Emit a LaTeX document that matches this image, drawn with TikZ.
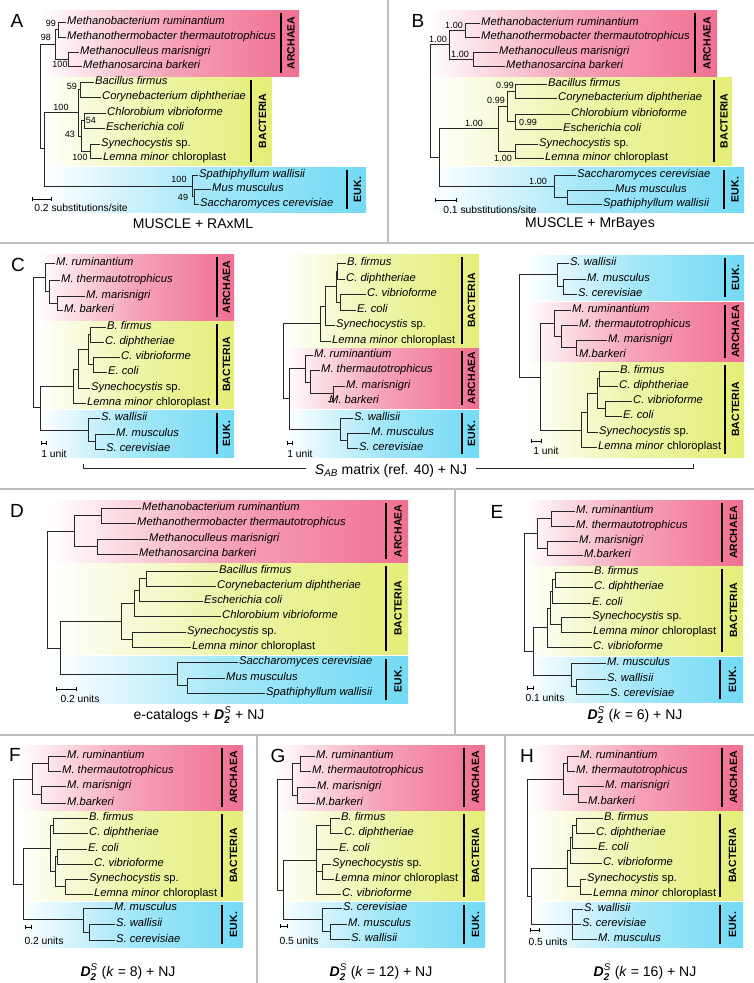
\documentclass[tikz,border=0pt]{standalone}
\usepackage{amsmath}
\usepackage{fontspec}
\setmainfont{Liberation Sans}
\usetikzlibrary{arrows.meta}

\definecolor{archc}{RGB}{240,112,145}
\definecolor{bactc}{RGB}{228,238,120}
\definecolor{eukc}{RGB}{115,218,245}

\newcommand{\cladebox}[8]{%
	\shade[left color=white, right color=#2, middle color=#2!65] (#3,#4) rectangle (#5,#6);
	\draw[grpbar] (#7,#4+3) -- (#7,#6-3);
	\node[grplabel] at ({(#7+#5)/2+1},{(#4+#6)/2}) (#1) {#8};
}
\newcommand{\dtwos}{$\textbf{\textit{D}}^{\textit{S}}_{\textbf{\textit{2}}}$}

\begin{document}
\begin{tikzpicture}[x=1pt,y=-1pt,
	leaf/.style={anchor=west,inner sep=1pt,text height=8pt,text depth=2.5pt,font=\fontsize{11.2}{13}\selectfont\itshape},
	supval/.style={inner sep=0pt,font=\fontsize{9}{10}\selectfont},
	grplabel/.style={rotate=90,inner sep=0pt,font=\fontsize{10.5}{12}\selectfont\bfseries},
	plabel/.style={inner sep=0pt,font=\fontsize{19}{22}\selectfont},
	captext/.style={inner sep=0pt,font=\fontsize{14}{16}\selectfont},
	scaletext/.style={inner sep=0pt,font=\fontsize{10.3}{12}\selectfont},
	branch/.style={line width=0.8pt,draw=black!85},
	elbow/.style={branch,to path={|- (\tikztotarget)}},
	grpbar/.style={line width=2.6pt},
	scalebar/.style={line width=0.8pt,{Bar[width=4pt]}-{Bar[width=4pt]}},
	divider/.style={line width=1.4pt,draw=black!25}]

	\useasboundingbox (0,0) rectangle (754,983);

	% A
	\cladebox{Aarc}{archc}{42}{10}{299}{76}{281}{ARCHAEA}
	\cladebox{Abac}{bactc}{42}{77}{272}{165}{251}{BACTERIA}
	\cladebox{Aeuk}{eukc}{42}{167}{366}{212}{347}{EUK.}
	\node[plabel] at (17,21) (Alab) {A};
	\node[leaf] at (66,22) (Amr) {Methanobacterium ruminantium};
	\node[leaf] at (66,37) (Amt) {Methanothermobacter thermautotrophicus};
	\node[leaf] at (79,52) (Amm) {Methanoculleus marisnigri};
	\node[leaf] at (82,66) (Amb) {Methanosarcina barkeri};
	\node[leaf] at (94,82) (Abf) {Bacillus firmus};
	\node[leaf] at (101,97) (Acd) {Corynebacterium diphtheriae};
	\node[leaf] at (106,113) (Acv) {Chlorobium vibrioforme};
	\node[leaf] at (105,128) (Aec) {Escherichia coli};
	\node[leaf] at (100,144) (Asy) {Synechocystis \textup{sp.}};
	\node[leaf] at (102,158) (Alm) {Lemna minor \textup{chloroplast}};
	\node[leaf] at (198,175) (Asw) {Spathiphyllum wallisii};
	\node[leaf] at (211,189) (Amu) {Mus musculus};
	\node[leaf] at (199,204) (Asc) {Saccharomyces cerevisiae};
	\coordinate (Aa1) at (58,29.5);
	\coordinate (Aa2) at (68,59);
	\coordinate (Aa3) at (55,44);
	\coordinate (Ab1) at (80,89.5);
	\coordinate (Ab2) at (84,120.5);
	\coordinate (Ab3) at (90,151);
	\coordinate (Ab4) at (81,136);
	\coordinate (Ab5) at (78,112);
	\coordinate (Ae1) at (194,196.5);
	\coordinate (Ae0) at (192,186);
	\coordinate (Ar2) at (44,148);
	\coordinate (Ar) at (40,96);
	\path
	(Ar) edge[elbow] (Aa3) edge[elbow] (Ar2)
	(Aa3) edge[elbow] (Aa1) edge[elbow] (Aa2)
	(Aa1) edge[elbow] (Amr.west) edge[elbow] (Amt.west)
	(Aa2) edge[elbow] (Amm.west) edge[elbow] (Amb.west)
	(Ar2) edge[elbow] (Ab5) edge[elbow] (Ae0)
	(Ab5) edge[elbow] (Ab1) edge[elbow] (Ab4)
	(Ab1) edge[elbow] (Abf.west) edge[elbow] (Acd.west)
	(Ab4) edge[elbow] (Ab2) edge[elbow] (Ab3)
	(Ab2) edge[elbow] (Acv.west) edge[elbow] (Aec.west)
	(Ab3) edge[elbow] (Asy.west) edge[elbow] (Alm.west)
	(Ae0) edge[elbow] (Asw.west) edge[elbow] (Ae1)
	(Ae1) edge[elbow] (Amu.west) edge[elbow] (Asc.west)
	;
	\node[supval] at (51,23) (As1) {99};
	\node[supval] at (46,37) (As2) {98};
	\node[supval] at (60,64) (As3) {100};
	\node[supval] at (72,86) (As4) {59};
	\node[supval] at (61,107) (As5) {100};
	\node[supval] at (91,120) (As6) {54};
	\node[supval] at (70,134) (As7) {43};
	\node[supval] at (80,157) (As8) {100};
	\node[supval] at (179,179) (As9) {100};
	\node[supval] at (183,197) (As10) {49};
	\draw[scalebar] (32,199) -- (52,199);
	\node[scaletext] at (81,208) (Ascl) {0.2 substitutions/site};
	\node[captext] at (193,224) (Acap) {MUSCLE + RAxML};

	% B
	\cladebox{Barc}{archc}{428}{10}{717}{76}{695}{ARCHAEA}
	\cladebox{Bbac}{bactc}{428}{77}{732}{165}{714}{BACTERIA}
	\cladebox{Beuk}{eukc}{428}{167}{744}{212}{724}{EUK.}
	\node[plabel] at (418,21) (Blab) {B};
	\node[leaf] at (480,23) (Bmr) {Methanobacterium ruminantium};
	\node[leaf] at (480,37) (Bmt) {Methanothermobacter thermautotrophicus};
	\node[leaf] at (498,52) (Bmm) {Methanoculleus marisnigri};
	\node[leaf] at (505,66) (Bmb) {Methanosarcina barkeri};
	\node[leaf] at (547,84) (Bbf) {Bacillus firmus};
	\node[leaf] at (557,98) (Bcd) {Corynebacterium diphtheriae};
	\node[leaf] at (570,114) (Bcv) {Chlorobium vibrioforme};
	\node[leaf] at (562,129) (Bec) {Escherichia coli};
	\node[leaf] at (538,144) (Bsy) {Synechocystis \textup{sp.}};
	\node[leaf] at (544,158) (Blm) {Lemna minor \textup{chloroplast}};
	\node[leaf] at (576,175) (Bsc) {Saccharomyces cerevisiae};
	\node[leaf] at (614,190) (Bmu) {Mus musculus};
	\node[leaf] at (602,204) (Bsw) {Spathiphyllum wallisii};
	\coordinate (Ba1) at (465,30);
	\coordinate (Ba2) at (473,59);
	\coordinate (Ba3) at (449,44.5);
	\coordinate (Bb1) at (515,91);
	\coordinate (Bb2) at (515,121.5);
	\coordinate (Bb3) at (507,106);
	\coordinate (Bb4) at (515,151);
	\coordinate (Bb5) at (498,128);
	\coordinate (Be1) at (567,197);
	\coordinate (Be0) at (554,186);
	\coordinate (Br2) at (439,157);
	\coordinate (Br) at (430,100);
	\path
	(Br) edge[elbow] (Ba3) edge[elbow] (Br2)
	(Ba3) edge[elbow] (Ba1) edge[elbow] (Ba2)
	(Ba1) edge[elbow] (Bmr.west) edge[elbow] (Bmt.west)
	(Ba2) edge[elbow] (Bmm.west) edge[elbow] (Bmb.west)
	(Br2) edge[elbow] (Bb5) edge[elbow] (Be0)
	(Bb5) edge[elbow] (Bb3) edge[elbow] (Bb4)
	(Bb3) edge[elbow] (Bb1) edge[elbow] (Bb2)
	(Bb1) edge[elbow] (Bbf.west) edge[elbow] (Bcd.west)
	(Bb2) edge[elbow] (Bcv.west) edge[elbow] (Bec.west)
	(Bb4) edge[elbow] (Bsy.west) edge[elbow] (Blm.west)
	(Be0) edge[elbow] (Bsc.west) edge[elbow] (Be1)
	(Be1) edge[elbow] (Bmu.west) edge[elbow] (Bsw.west)
	;
	\node[supval] at (454,25) (Bs1) {1.00};
	\node[supval] at (438,39) (Bs2) {1.00};
	\node[supval] at (460,54) (Bs3) {1.00};
	\node[supval] at (505,85) (Bs4) {0.99};
	\node[supval] at (496,100) (Bs5) {0.99};
	\node[supval] at (528,122) (Bs6) {0.99};
	\node[supval] at (474,123) (Bs7) {1.00};
	\node[supval] at (503,158) (Bs8) {1.00};
	\node[supval] at (538,181) (Bs9) {1.00};
	\draw[scalebar] (435,200) -- (457,200);
	\node[scaletext] at (490,210) (Bscl) {0.1 substitutions/site};
	\node[captext] at (590,224) (Bcap) {MUSCLE + MrBayes};

	% C
	\cladebox{Caarc}{archc}{38}{254}{234}{320}{217}{ARCHAEA}
	\cladebox{Cabac}{bactc}{38}{321}{234}{408}{217}{BACTERIA}
	\cladebox{Caeuk}{eukc}{38}{410}{234}{457}{217}{EUK.}
	\node[plabel] at (18,265) (Clab) {C};
	\node[leaf] at (55,263) (Camr) {M. ruminantium};
	\node[leaf] at (60,280) (Camt) {M. thermautotrophicus};
	\node[leaf] at (85,296) (Camm) {M. marisnigri};
	\node[leaf] at (63,310) (Camb) {M. barkeri};
	\node[leaf] at (106,327) (Cabf) {B. firmus};
	\node[leaf] at (104,342) (Cacd) {C. diphtheriae};
	\node[leaf] at (120,357) (Cacv) {C. vibrioforme};
	\node[leaf] at (107,372) (Caec) {E. coli};
	\node[leaf] at (90,388) (Casy) {Synechocystis \textup{sp.}};
	\node[leaf] at (86,403) (Calm) {Lemna minor \textup{chloroplast}};
	\node[leaf] at (100,418) (Casw) {S. wallisii};
	\node[leaf] at (115,434) (Camu) {M. musculus};
	\node[leaf] at (105,449) (Casc) {S. cerevisiae};
	\coordinate (Caa3) at (57,303);
	\coordinate (Caa2) at (49,291.5);
	\coordinate (Caa1) at (45,277);
	\coordinate (Cab1) at (90,334.5);
	\coordinate (Cab2) at (93,364.5);
	\coordinate (Cab3) at (88,349.5);
	\coordinate (Cab4) at (78,369);
	\coordinate (Cab5) at (73,386);
	\coordinate (Cae1) at (95,441.5);
	\coordinate (Cae0) at (88,430);
	\coordinate (Car2) at (40,407);
	\coordinate (Car) at (33,342);
	\path
	(Car) edge[elbow] (Caa1) edge[elbow] (Car2)
	(Caa1) edge[elbow] (Camr.west) edge[elbow] (Caa2)
	(Caa2) edge[elbow] (Camt.west) edge[elbow] (Caa3)
	(Caa3) edge[elbow] (Camm.west) edge[elbow] (Camb.west)
	(Car2) edge[elbow] (Cab5) edge[elbow] (Cae0)
	(Cab5) edge[elbow] (Cab4) edge[elbow] (Calm.west)
	(Cab4) edge[elbow] (Cab3) edge[elbow] (Casy.west)
	(Cab3) edge[elbow] (Cab1) edge[elbow] (Cab2)
	(Cab1) edge[elbow] (Cabf.west) edge[elbow] (Cacd.west)
	(Cab2) edge[elbow] (Cacv.west) edge[elbow] (Caec.west)
	(Cae0) edge[elbow] (Casw.west) edge[elbow] (Cae1)
	(Cae1) edge[elbow] (Camu.west) edge[elbow] (Casc.west)
	;
	\draw[scalebar] (41,443) -- (47,443);
	\node[scaletext] at (54,454) (Cascl) {1 unit};

	\cladebox{Cbbac}{bactc}{285}{254}{479}{347}{462}{BACTERIA}
	\cladebox{Cbarc}{archc}{285}{348}{479}{408}{462}{ARCHAEA}
	\cladebox{Cbeuk}{eukc}{285}{410}{479}{457}{462}{EUK.}
	\node[leaf] at (346,263) (Cbbf) {B. firmus};
	\node[leaf] at (345,279) (Cbcd) {C. diphtheriae};
	\node[leaf] at (366,294) (Cbcv) {C. vibrioforme};
	\node[leaf] at (356,310) (Cbec) {E. coli};
	\node[leaf] at (335,325) (Cbsy) {Synechocystis \textup{sp.}};
	\node[leaf] at (331,341) (Cblm) {Lemna minor \textup{chloroplast}};
	\node[leaf] at (313,355) (Cbmr) {M. ruminantium};
	\node[leaf] at (320,370) (Cbmt) {M. thermautotrophicus};
	\node[leaf] at (345,386) (Cbmm) {M. marisnigri};
	\node[leaf] at (328,401) (Cbmb) {M. barkeri};
	\node[leaf] at (353,418) (Cbsw) {S. wallisii};
	\node[leaf] at (370,433) (Cbmu) {M. musculus};
	\node[leaf] at (358,448) (Cbsc) {S. cerevisiae};
	\coordinate (Cbb1) at (337,271);
	\coordinate (Cbb2) at (340,302);
	\coordinate (Cbb3) at (336,286.5);
	\coordinate (Cbb4) at (325,306);
	\coordinate (Cbb5) at (320,323);
	\coordinate (Cba3) at (333,393.5);
	\coordinate (Cba2) at (310,382);
	\coordinate (Cba1) at (305,368);
	\coordinate (Cbe1) at (347,440.5);
	\coordinate (Cbe0) at (340,429);
	\coordinate (Cbr2) at (289,398);
	\coordinate (Cbr) at (283,360);
	\path
	(Cbr) edge[elbow] (Cbb5) edge[elbow] (Cbr2)
	(Cbb5) edge[elbow] (Cbb4) edge[elbow] (Cblm.west)
	(Cbb4) edge[elbow] (Cbb3) edge[elbow] (Cbsy.west)
	(Cbb3) edge[elbow] (Cbb1) edge[elbow] (Cbb2)
	(Cbb1) edge[elbow] (Cbbf.west) edge[elbow] (Cbcd.west)
	(Cbb2) edge[elbow] (Cbcv.west) edge[elbow] (Cbec.west)
	(Cbr2) edge[elbow] (Cba1) edge[elbow] (Cbe0)
	(Cba1) edge[elbow] (Cbmr.west) edge[elbow] (Cba2)
	(Cba2) edge[elbow] (Cbmt.west) edge[elbow] (Cba3)
	(Cba3) edge[elbow] (Cbmm.west) edge[elbow] (Cbmb.west)
	(Cbe0) edge[elbow] (Cbsw.west) edge[elbow] (Cbe1)
	(Cbe1) edge[elbow] (Cbmu.west) edge[elbow] (Cbsc.west)
	;
	\draw[scalebar] (287,443) -- (293,443);
	\node[scaletext] at (300,454) (Cbscl) {1 unit};

	\cladebox{Cceuk}{eukc}{525}{255}{744}{300}{725}{EUK.}
	\cladebox{Ccarc}{archc}{525}{302}{744}{361}{725}{ARCHAEA}
	\cladebox{Ccbac}{bactc}{525}{362}{744}{457}{725}{BACTERIA}
	\node[leaf] at (569,263) (Ccsw) {S. wallisii};
	\node[leaf] at (586,279) (Ccmu) {M. musculus};
	\node[leaf] at (577,294) (Ccsc) {S. cerevisiae};
	\node[leaf] at (571,310) (Ccmr) {M. ruminantium};
	\node[leaf] at (578,325) (Ccmt) {M. thermautotrophicus};
	\node[leaf] at (607,340) (Ccmm) {M. marisnigri};
	\node[leaf] at (578,355) (Ccmb) {M.barkeri};
	\node[leaf] at (619,371) (Ccbf) {B. firmus};
	\node[leaf] at (618,386) (Cccd) {C. diphtheriae};
	\node[leaf] at (632,401) (Cccv) {C. vibrioforme};
	\node[leaf] at (622,416) (Ccec) {E. coli};
	\node[leaf] at (598,432) (Ccsy) {Synechocystis \textup{sp.}};
	\node[leaf] at (597,447) (Cclm) {Lemna minor \textup{chloroplast}};
	\coordinate (Cce1) at (563,286.5);
	\coordinate (Cce0) at (557,274);
	\coordinate (Cca3) at (576,347.5);
	\coordinate (Cca2) at (561,336);
	\coordinate (Cca1) at (554,323);
	\coordinate (Ccb1) at (599,378.5);
	\coordinate (Ccb2) at (605,408.5);
	\coordinate (Ccb3) at (597,393.5);
	\coordinate (Ccb4) at (587,412);
	\coordinate (Ccb5) at (581,430);
	\coordinate (Ccr2) at (540,377);
	\coordinate (Ccr) at (519,325);
	\path
	(Ccr) edge[elbow] (Cce0) edge[elbow] (Ccr2)
	(Cce0) edge[elbow] (Ccsw.west) edge[elbow] (Cce1)
	(Cce1) edge[elbow] (Ccmu.west) edge[elbow] (Ccsc.west)
	(Ccr2) edge[elbow] (Cca1) edge[elbow] (Ccb5)
	(Cca1) edge[elbow] (Ccmr.west) edge[elbow] (Cca2)
	(Cca2) edge[elbow] (Ccmt.west) edge[elbow] (Cca3)
	(Cca3) edge[elbow] (Ccmm.west) edge[elbow] (Ccmb.west)
	(Ccb5) edge[elbow] (Ccb4) edge[elbow] (Cclm.west)
	(Ccb4) edge[elbow] (Ccb3) edge[elbow] (Ccsy.west)
	(Ccb3) edge[elbow] (Ccb1) edge[elbow] (Ccb2)
	(Ccb1) edge[elbow] (Ccbf.west) edge[elbow] (Cccd.west)
	(Ccb2) edge[elbow] (Cccv.west) edge[elbow] (Ccec.west)
	;
	\draw[scalebar] (531,441) -- (542,441);
	\node[scaletext] at (546,451) (Ccscl) {1 unit};

	\coordinate (Cbl) at (83,464);
	\coordinate (Cbr) at (693,464);
	\node[captext,inner xsep=9pt] at (391,471) (Ccap) {$\textit{S}_{\textit{AB}}$ matrix (ref. 40) + NJ};
	\draw[branch] (Cbl) |- ([yshift=3pt]Ccap.west);
	\draw[branch] ([yshift=3pt]Ccap.east) -| (Cbr);

	% D
	\cladebox{Darc}{archc}{50}{500}{408}{562}{386}{ARCHAEA}
	\cladebox{Dbac}{bactc}{50}{563}{408}{654}{386}{BACTERIA}
	\cladebox{Deuk}{eukc}{50}{656}{408}{703}{386}{EUK.}
	\node[plabel] at (17,511) (Dlab) {D};
	\node[leaf] at (141,508) (Dmr) {Methanobacterium ruminantium};
	\node[leaf] at (136,523) (Dmt) {Methanothermobacter thermautotrophicus};
	\node[leaf] at (148,539) (Dmm) {Methanoculleus marisnigri};
	\node[leaf] at (138,554) (Dmb) {Methanosarcina barkeri};
	\node[leaf] at (218,571) (Dbf) {Bacillus firmus};
	\node[leaf] at (216,586) (Dcd) {Corynebacterium diphtheriae};
	\node[leaf] at (203,601) (Dec) {Escherichia coli};
	\node[leaf] at (221,616) (Dcv) {Chlorobium vibrioforme};
	\node[leaf] at (186,632) (Dsy) {Synechocystis \textup{sp.}};
	\node[leaf] at (191,647) (Dlm) {Lemna minor \textup{chloroplast}};
	\node[leaf] at (238,662) (Dsc) {Saccharomyces cerevisiae};
	\node[leaf] at (225,678) (Dmu) {Mus musculus};
	\node[leaf] at (265,693) (Dsw) {Spathiphyllum wallisii};
	\coordinate (Da1) at (101,515.5);
	\coordinate (Da2) at (97,546.5);
	\coordinate (Da3) at (74,531);
	\coordinate (Db1) at (146,578.5);
	\coordinate (Db2) at (139,590);
	\coordinate (Db3) at (134,603);
	\coordinate (Db4) at (132,639.5);
	\coordinate (Db5) at (121,621);
	\coordinate (De1) at (187,685.5);
	\coordinate (De0) at (177,674);
	\coordinate (Dr2) at (60,648);
	\coordinate (Dr) at (47,590);
	\path
	(Dr) edge[elbow] (Da3) edge[elbow] (Dr2)
	(Da3) edge[elbow] (Da1) edge[elbow] (Da2)
	(Da1) edge[elbow] (Dmr.west) edge[elbow] (Dmt.west)
	(Da2) edge[elbow] (Dmm.west) edge[elbow] (Dmb.west)
	(Dr2) edge[elbow] (Db5) edge[elbow] (De0)
	(Db5) edge[elbow] (Db3) edge[elbow] (Db4)
	(Db3) edge[elbow] (Db2) edge[elbow] (Dcv.west)
	(Db2) edge[elbow] (Db1) edge[elbow] (Dec.west)
	(Db1) edge[elbow] (Dbf.west) edge[elbow] (Dcd.west)
	(Db4) edge[elbow] (Dsy.west) edge[elbow] (Dlm.west)
	(De0) edge[elbow] (Dsc.west) edge[elbow] (De1)
	(De1) edge[elbow] (Dmu.west) edge[elbow] (Dsw.west)
	;
	\draw[scalebar] (56,689) -- (77,689);
	\node[scaletext] at (80,699) (Dscl) {0.2 units};
	\node[captext] at (199,715) (Dcap) {e-catalogs + \dtwos{} + NJ};

	% E
	\cladebox{Earc}{archc}{525}{500}{743}{565}{722}{ARCHAEA}
	\cladebox{Ebac}{bactc}{525}{566}{743}{655}{722}{BACTERIA}
	\cladebox{Eeuk}{eukc}{525}{657}{743}{702}{720}{EUK.}
	\node[plabel] at (497,512) (Elab) {E};
	\node[leaf] at (575,511) (Emr) {M. ruminantium};
	\node[leaf] at (575,526) (Emt) {M. thermautotrophicus};
	\node[leaf] at (578,541) (Emm) {M. marisnigri};
	\node[leaf] at (583,555) (Emb) {M.barkeri};
	\node[leaf] at (593,572) (Ebf) {B. firmus};
	\node[leaf] at (593,587) (Ecd) {C. diphtheriae};
	\node[leaf] at (591,603) (Eec) {E. coli};
	\node[leaf] at (591,617) (Esy) {Synechocystis \textup{sp.}};
	\node[leaf] at (592,632) (Elm) {Lemna minor \textup{chloroplast}};
	\node[leaf] at (592,647) (Ecv) {C. vibrioforme};
	\node[leaf] at (606,663) (Emu) {M. musculus};
	\node[leaf] at (606,679) (Esw) {S. wallisii};
	\node[leaf] at (609,694) (Esc) {S. cerevisiae};
	\coordinate (Ea1) at (551,518.5);
	\coordinate (Ea2) at (547,548);
	\coordinate (Ea3) at (537,533);
	\coordinate (Eb1) at (555,579.5);
	\coordinate (Eb2) at (552,591);
	\coordinate (Eb4) at (561,624.5);
	\coordinate (Eb3) at (550,608);
	\coordinate (Eb5) at (547,627);
	\coordinate (Ee1) at (576,686.5);
	\coordinate (Ee0) at (571,675);
	\coordinate (Er2) at (533,651);
	\coordinate (Er) at (524,592);
	\path
	(Er) edge[elbow] (Ea3) edge[elbow] (Er2)
	(Ea3) edge[elbow] (Ea1) edge[elbow] (Ea2)
	(Ea1) edge[elbow] (Emr.west) edge[elbow] (Emt.west)
	(Ea2) edge[elbow] (Emm.west) edge[elbow] (Emb.west)
	(Er2) edge[elbow] (Eb5) edge[elbow] (Ee0)
	(Eb5) edge[elbow] (Eb3) edge[elbow] (Ecv.west)
	(Eb3) edge[elbow] (Eb2) edge[elbow] (Eb4)
	(Eb2) edge[elbow] (Eb1) edge[elbow] (Eec.west)
	(Eb1) edge[elbow] (Ebf.west) edge[elbow] (Ecd.west)
	(Eb4) edge[elbow] (Esy.west) edge[elbow] (Elm.west)
	(Ee0) edge[elbow] (Emu.west) edge[elbow] (Ee1)
	(Ee1) edge[elbow] (Esw.west) edge[elbow] (Esc.west)
	;
	\draw[scalebar] (527,688) -- (534,688);
	\node[scaletext] at (545,698) (Escl) {0.1 units};
	\node[captext] at (635,715) (Ecap) {\dtwos{} (\textit{k} = 6) + NJ};

	% F
	\cladebox{Farc}{archc}{18}{745}{243}{810}{222}{ARCHAEA}
	\cladebox{Fbac}{bactc}{18}{811}{243}{900}{222}{BACTERIA}
	\cladebox{Feuk}{eukc}{18}{902}{243}{947}{222}{EUK.}
	\node[plabel] at (15,755) (Flab) {F};
	\node[leaf] at (66,756) (Fmr) {M. ruminantium};
	\node[leaf] at (61,771) (Fmt) {M. thermautotrophicus};
	\node[leaf] at (66,786) (Fmm) {M. marisnigri};
	\node[leaf] at (66,803) (Fmb) {M.barkeri};
	\node[leaf] at (88,818) (Fbf) {B. firmus};
	\node[leaf] at (88,833) (Fcd) {C. diphtheriae};
	\node[leaf] at (87,849) (Fec) {E. coli};
	\node[leaf] at (93,864) (Fcv) {C. vibrioforme};
	\node[leaf] at (88,879) (Fsy) {Synechocystis \textup{sp.}};
	\node[leaf] at (93,894) (Flm) {Lemna minor \textup{chloroplast}};
	\node[leaf] at (113,908) (Fmu) {M. musculus};
	\node[leaf] at (115,924) (Fsw) {S. wallisii};
	\node[leaf] at (115,940) (Fsc) {S. cerevisiae};
	\coordinate (Fa1) at (48,763.5);
	\coordinate (Fa2) at (41,794.5);
	\coordinate (Fa3) at (32,779);
	\coordinate (Fb1) at (53,825.5);
	\coordinate (Fb2) at (57,856.5);
	\coordinate (Fb4) at (65,886.5);
	\coordinate (Fb3) at (55,871);
	\coordinate (Fb5) at (50,848);
	\coordinate (Fe1) at (89,932);
	\coordinate (Fe0) at (83,919);
	\coordinate (Fr2) at (23,884);
	\coordinate (Fr) at (13,832);
	\path
	(Fr) edge[elbow] (Fa3) edge[elbow] (Fr2)
	(Fa3) edge[elbow] (Fa1) edge[elbow] (Fa2)
	(Fa1) edge[elbow] (Fmr.west) edge[elbow] (Fmt.west)
	(Fa2) edge[elbow] (Fmm.west) edge[elbow] (Fmb.west)
	(Fr2) edge[elbow] (Fb5) edge[elbow] (Fe0)
	(Fb5) edge[elbow] (Fb1) edge[elbow] (Fb3)
	(Fb1) edge[elbow] (Fbf.west) edge[elbow] (Fcd.west)
	(Fb3) edge[elbow] (Fb2) edge[elbow] (Fb4)
	(Fb2) edge[elbow] (Fec.west) edge[elbow] (Fcv.west)
	(Fb4) edge[elbow] (Fsy.west) edge[elbow] (Flm.west)
	(Fe0) edge[elbow] (Fmu.west) edge[elbow] (Fe1)
	(Fe1) edge[elbow] (Fsw.west) edge[elbow] (Fsc.west)
	;
	\draw[scalebar] (25,927) -- (32,927);
	\node[scaletext] at (44,941) (Fscl) {0.2 units};
	\node[captext] at (128,972) (Fcap) {\dtwos{} (\textit{k} = 8) + NJ};

	% G
	\cladebox{Garc}{archc}{275}{745}{485}{810}{464}{ARCHAEA}
	\cladebox{Gbac}{bactc}{275}{811}{485}{900}{464}{BACTERIA}
	\cladebox{Geuk}{eukc}{275}{902}{485}{947}{464}{EUK.}
	\node[plabel] at (278,756) (Glab) {G};
	\node[leaf] at (315,756) (Gmr) {M. ruminantium};
	\node[leaf] at (311,771) (Gmt) {M. thermautotrophicus};
	\node[leaf] at (316,787) (Gmm) {M. marisnigri};
	\node[leaf] at (315,803) (Gmb) {M.barkeri};
	\node[leaf] at (340,818) (Gbf) {B. firmus};
	\node[leaf] at (343,833) (Gcd) {C. diphtheriae};
	\node[leaf] at (338,849) (Gec) {E. coli};
	\node[leaf] at (331,864) (Gsy) {Synechocystis \textup{sp.}};
	\node[leaf] at (334,879) (Glm) {Lemna minor \textup{chloroplast}};
	\node[leaf] at (341,894) (Gcv) {C. vibrioforme};
	\node[leaf] at (342,908) (Gsc) {S. cerevisiae};
	\node[leaf] at (347,924) (Gmu) {M. musculus};
	\node[leaf] at (350,939) (Gsw) {S. wallisii};
	\coordinate (Ga1) at (300,763.5);
	\coordinate (Ga2) at (297,795);
	\coordinate (Ga3) at (292,779);
	\coordinate (Gb1) at (330,825.5);
	\coordinate (Gb4) at (322,871.5);
	\coordinate (Gbx) at (316,860);
	\coordinate (Ge1) at (330,931.5);
	\coordinate (Ge0) at (322,919.5);
	\coordinate (Gr2) at (283,890);
	\coordinate (Gr) at (277,835);
	\path
	(Gr) edge[elbow] (Ga3) edge[elbow] (Gr2)
	(Ga3) edge[elbow] (Ga1) edge[elbow] (Ga2)
	(Ga1) edge[elbow] (Gmr.west) edge[elbow] (Gmt.west)
	(Ga2) edge[elbow] (Gmm.west) edge[elbow] (Gmb.west)
	(Gr2) edge[elbow] (Gbx) edge[elbow] (Ge0)
	(Gbx) edge[elbow] (Gb1) edge[elbow] (Gec.west) edge[elbow] (Gb4) edge[elbow] (Gcv.west)
	(Gb1) edge[elbow] (Gbf.west) edge[elbow] (Gcd.west)
	(Gb4) edge[elbow] (Gsy.west) edge[elbow] (Glm.west)
	(Ge0) edge[elbow] (Gsc.west) edge[elbow] (Ge1)
	(Ge1) edge[elbow] (Gmu.west) edge[elbow] (Gsw.west)
	;
	\draw[scalebar] (280,926) -- (288,926);
	\node[scaletext] at (299,941) (Gscl) {0.5 units};
	\node[captext] at (381,972) (Gcap) {\dtwos{} (\textit{k} = 12) + NJ};

	% H
	\cladebox{Harc}{archc}{530}{745}{743}{810}{722}{ARCHAEA}
	\cladebox{Hbac}{bactc}{530}{811}{743}{900}{720}{BACTERIA}
	\cladebox{Heuk}{eukc}{530}{902}{743}{947}{720}{EUK.}
	\node[plabel] at (527,756) (Hlab) {H};
	\node[leaf] at (579,756) (Hmr) {M. ruminantium};
	\node[leaf] at (575,771) (Hmt) {M. thermautotrophicus};
	\node[leaf] at (604,786) (Hmm) {M. marisnigri};
	\node[leaf] at (587,802) (Hmb) {M.barkeri};
	\node[leaf] at (603,818) (Hbf) {B. firmus};
	\node[leaf] at (595,833) (Hcd) {C. diphtheriae};
	\node[leaf] at (597,848) (Hec) {E. coli};
	\node[leaf] at (602,863) (Hcv) {C. vibrioforme};
	\node[leaf] at (586,879) (Hsy) {Synechocystis \textup{sp.}};
	\node[leaf] at (592,894) (Hlm) {Lemna minor \textup{chloroplast}};
	\node[leaf] at (583,909) (Hsw) {S. wallisii};
	\node[leaf] at (581,924) (Hsc) {S. cerevisiae};
	\node[leaf] at (597,939) (Hmu) {M. musculus};
	\coordinate (Ha1) at (567,763.5);
	\coordinate (Ha2) at (578,794);
	\coordinate (Ha3) at (563,779);
	\coordinate (Hb1) at (576,825.5);
	\coordinate (Hb2) at (572,837);
	\coordinate (Hb3) at (570,850);
	\coordinate (Hb4) at (580,886.5);
	\coordinate (Hb5) at (567,868);
	\coordinate (He0) at (572,924);
	\coordinate (Hr2) at (531,896);
	\coordinate (Hr) at (527,837);
	\path
	(Hr) edge[elbow] (Ha3) edge[elbow] (Hr2)
	(Ha3) edge[elbow] (Ha1) edge[elbow] (Ha2)
	(Ha1) edge[elbow] (Hmr.west) edge[elbow] (Hmt.west)
	(Ha2) edge[elbow] (Hmm.west) edge[elbow] (Hmb.west)
	(Hr2) edge[elbow] (Hb5) edge[elbow] (He0)
	(Hb5) edge[elbow] (Hb3) edge[elbow] (Hb4)
	(Hb3) edge[elbow] (Hb2) edge[elbow] (Hcv.west)
	(Hb2) edge[elbow] (Hb1) edge[elbow] (Hec.west)
	(Hb1) edge[elbow] (Hbf.west) edge[elbow] (Hcd.west)
	(Hb4) edge[elbow] (Hsy.west) edge[elbow] (Hlm.west)
	(He0) edge[elbow] (Hsw.west) edge[elbow] (Hsc.west) edge[elbow] (Hmu.west)
	;
	\draw[scalebar] (530,930) -- (540,930);
	\node[scaletext] at (548,942) (Hscl) {0.5 units};
	\node[captext] at (645,972) (Hcap) {\dtwos{} (\textit{k} = 16) + NJ};

	% panel rules
	\draw[divider] (388,0) -- (388,243);
	\draw[divider] (0,243) -- (754,243);
	\draw[divider] (0,489) -- (754,489);
	\draw[divider] (455,489) -- (455,735);
	\draw[divider] (0,735) -- (754,735);
	\draw[divider] (257,735) -- (257,983);
	\draw[divider] (505,735) -- (505,983);

\end{tikzpicture}
\end{document}
